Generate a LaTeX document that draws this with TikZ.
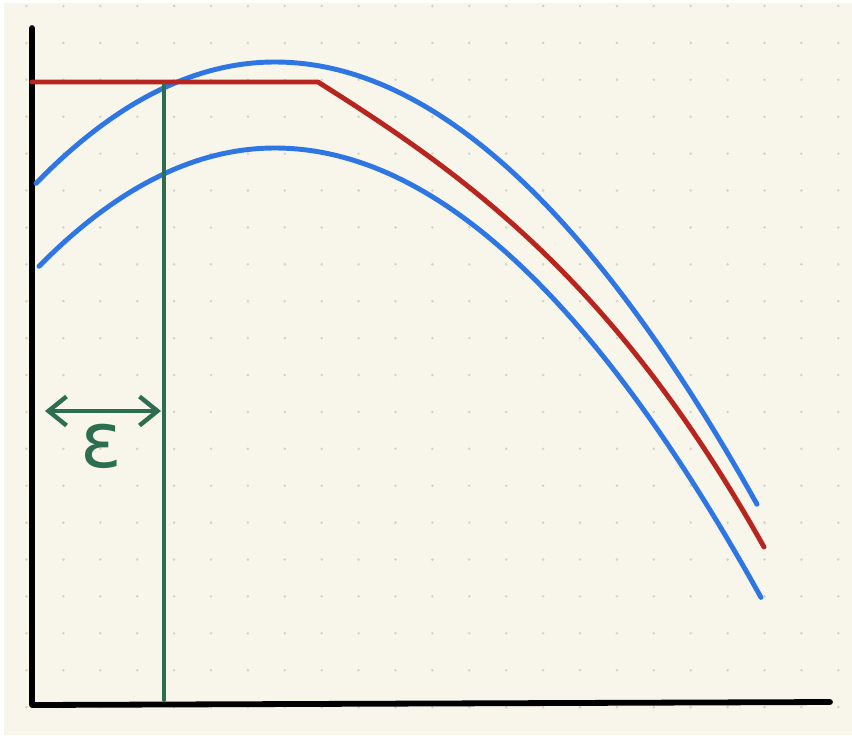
\documentclass[tikz,border=0pt]{standalone}
\usepackage{amsmath,amssymb}
\usepackage{fontspec}
\usepackage{tikz}
\usetikzlibrary{arrows.meta,positioning,calc}
\newfontfamily\epsfont{DejaVu Sans}
\definecolor{paper}{RGB}{248,245,234}
\definecolor{griddot}{RGB}{214,210,198}
\definecolor{curveblue}{RGB}{46,118,228}
\definecolor{curvered}{RGB}{184,36,30}
\definecolor{epsgreen}{RGB}{46,110,80}

\begin{document}
\begin{tikzpicture}[x=0.02cm,y=-0.02cm,line cap=round,line join=round,
  declare function={bandy(\t)=62+20*\t*\t-0.2*\t*\t*\t;
                    targety(\t)=82+62.97*\t+1.917*\t*\t+1.646*\t*\t*\t;},
  axis/.style={line width=3.3pt,black},
  band/.style={line width=2.8pt,curveblue},
  target/.style={line width=2.8pt,curvered},
  epsline/.style={line width=2.5pt,epsgreen},
  barb/.tip={Straight Barb[length=0.36cm,width=0.58cm,line width=2.5pt]}]
  \useasboundingbox (0,0) rectangle (852,735);
  \fill[paper] (4,3) rectangle (852,735);
  \foreach \i in {0,...,22}
    \foreach \j in {0,...,19}
      \fill[griddot] (26.5+36.9*\i,6+36.9*\j) circle[radius=0.8pt];
  \coordinate (O) at (32,705);
  \coordinate (ytop) at (32,28);
  \coordinate (xend) at (830,702);
  \draw[axis] (ytop) -- (O) -- (xend);
  \draw[band,domain=36:757,smooth,variable=\x,samples=80] plot ({\x},{bandy((\x-275)/100)+0.00008*(\x-275)*(\x-275)*(\x<275)});
  \draw[band,domain=39:761,smooth,variable=\x,samples=80] plot ({\x},{86+bandy((\x-275)/100)+0.00008*(\x-275)*(\x-275)*(\x<275)});
  \coordinate (redstart) at (32,82);
  \coordinate (knee) at (318,82);
  \draw[target] (redstart) -- (knee) -- plot[domain=318:764,smooth,variable=\x,samples=60] ({\x},{targety((\x-318)/100)});
  \coordinate (epstop) at (164,85);
  \coordinate (epsbot) at (164,700);
  \draw[epsline] (epstop) -- (epsbot);
  \coordinate (arrl) at (45,411);
  \coordinate (arrr) at (161,411);
  \draw[epsline,barb-barb] (arrl) -- (arrr);
  \node[epsgreen,font=\epsfont\fontsize{44}{44}\selectfont] (eps) at (101,446) {ε};
\end{tikzpicture}
\end{document}
